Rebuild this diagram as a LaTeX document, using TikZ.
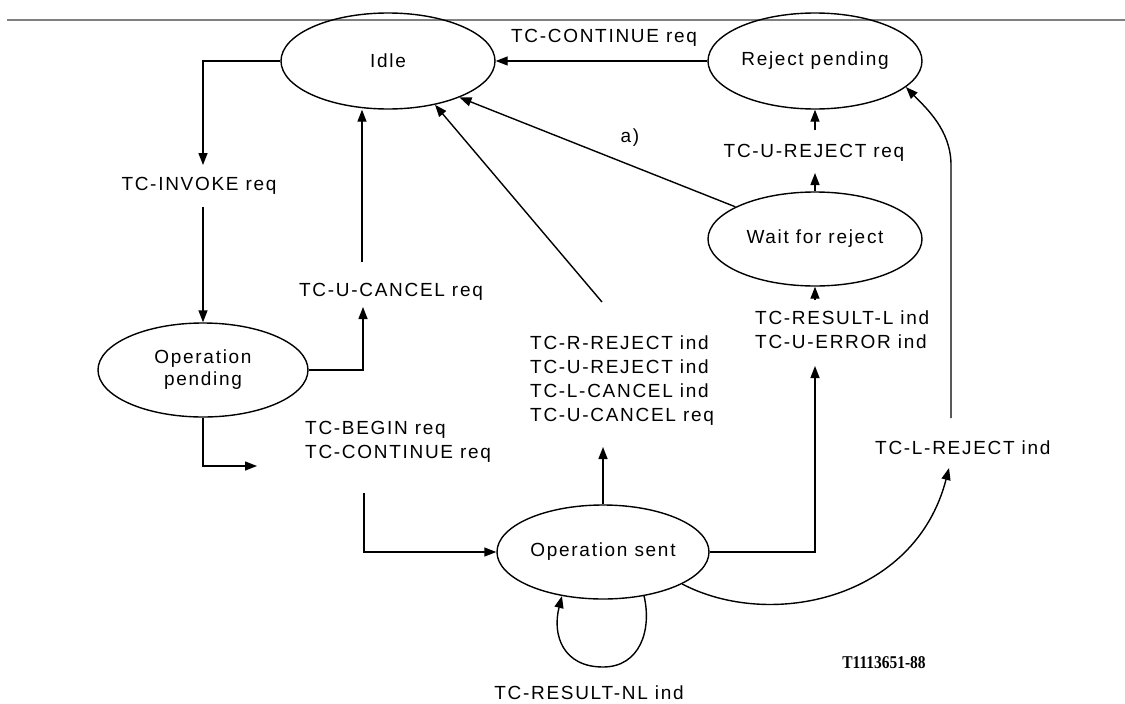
\documentclass[tikz,border=0pt]{standalone}
\usepackage{fontspec}
\newfontfamily\lblfont{Liberation Sans}[LetterSpace=9]
\newfontfamily\codefont{Liberation Serif}[BoldFont={Liberation Serif Bold}]
\usetikzlibrary{arrows.meta,shapes.geometric}
\tikzset{
  state/.style={draw, ellipse, line width=1.4pt, inner sep=0pt, align=center,
    font=\lblfont\fontsize{19}{22}\selectfont},
  lbl/.style={inner sep=0pt, font=\lblfont\fontsize{19}{24}\selectfont},
  conn/.style={line width=1.4pt},
  arr/.style={conn, -{Triangle[length=12pt,width=9pt]}},
}
\begin{document}
\begin{tikzpicture}[x=1pt,y=-1pt]
\useasboundingbox (0,0) rectangle (1125,704);
\draw[black!50, line width=1.3pt] (7,20) -- (1125,20);

% states
\node[state, minimum width=214pt, minimum height=96pt] (idle) at (388,61) {Idle};
\node[state, minimum width=214pt, minimum height=96pt] (rejp) at (815,61) {Reject pending};
\node[state, minimum width=214pt, minimum height=94pt] (wait) at (815,239) {Wait for reject};
\node[state, minimum width=210pt, minimum height=94pt] (opp) at (203,370) {Operation\\pending};
\node[state, minimum width=212pt, minimum height=94pt] (ops) at (603,552) {Operation sent};

% labels
\node[lbl, anchor=base] (lcont) at (604,42) {TC-CONTINUE req};
\node[lbl, anchor=base] (linv) at (199,190) {TC-INVOKE req};
\node[lbl, anchor=base] (lucan) at (391,296) {TC-U-CANCEL req};
\node[lbl, anchor=base] (lurej) at (814,157) {TC-U-REJECT req};
\node[lbl, anchor=base west] (llrej) at (875,454) {TC-L-REJECT ind};
\node[lbl, anchor=base] (lresnl) at (589,699) {TC-RESULT-NL ind};
\node[lbl, anchor=base] (la) at (630,142) {a)};
\node[lbl, anchor=north west, align=left] (lrrej) at (530,336)
  {TC-R-REJECT ind\\TC-U-REJECT ind\\TC-L-CANCEL ind\\TC-U-CANCEL req};
\node[lbl, anchor=north west, align=left] (lresl) at (755,311)
  {TC-RESULT-L ind\\TC-U-ERROR ind};
\node[lbl, anchor=north west, align=left] (lbeg) at (305,421)
  {TC-BEGIN req\\TC-CONTINUE req};
\node[inner sep=0pt, anchor=base, font=\codefont\bfseries\fontsize{18}{20}\selectfont] (tcode) at (884,668)
  {\scalebox{0.86}[1]{T1113651-88}};

% free ends of connectors
\coordinate (invin) at (203,165);
\coordinate (invout) at (203,207);
\coordinate (ucin) at (363,307);
\coordinate (ucout) at (362,262);
\coordinate (begin) at (257,466);
\coordinate (begout) at (364,493);
\coordinate (rrin) at (603,447);
\coordinate (rrout) at (602,302);
\coordinate (urin) at (815,173);
\coordinate (urout) at (815,130);
\coordinate (rlin) at (815,366);
\coordinate (rlout) at (815,300);
\coordinate (lrin) at (949,468);
\coordinate (lrout) at (951,418);

% connectors
\draw[arr] (rejp.west) -- (idle.east);
\draw[arr] (idle.west) -| (invin);
\draw[arr] (invout) -- (opp.north);
\draw[arr] (opp.east) -| (ucin);
\draw[arr] (ucout) -- (ucout |- idle.south);
\draw[arr] (opp.south) |- (begin);
\draw[arr] (begout) |- (ops.west);
\draw[arr] (ops.north) -- (rrin);
\draw[arr] (rrout) -- (idle.-43);
\draw[arr] (wait.158) -- (idle.-27);
\draw[arr] (wait.north) -- (urin);
\draw[arr] (urout) -- (rejp.south);
\draw[arr] (rlout) -- (wait.south);
\draw[arr] (ops.east) -| (rlin);
\draw[arr] (ops.-22) .. controls (770,630) and (915,600) .. (lrin);
\draw[arr] (lrout) -- (951,165) .. controls (951,130) and (926,108) .. (rejp.-16);
\draw[arr] (ops.-47) .. controls (652,630) and (640,667) .. (603,667)
  .. controls (563,667) and (552,635) .. (ops.-133);
\end{tikzpicture}
\end{document}
